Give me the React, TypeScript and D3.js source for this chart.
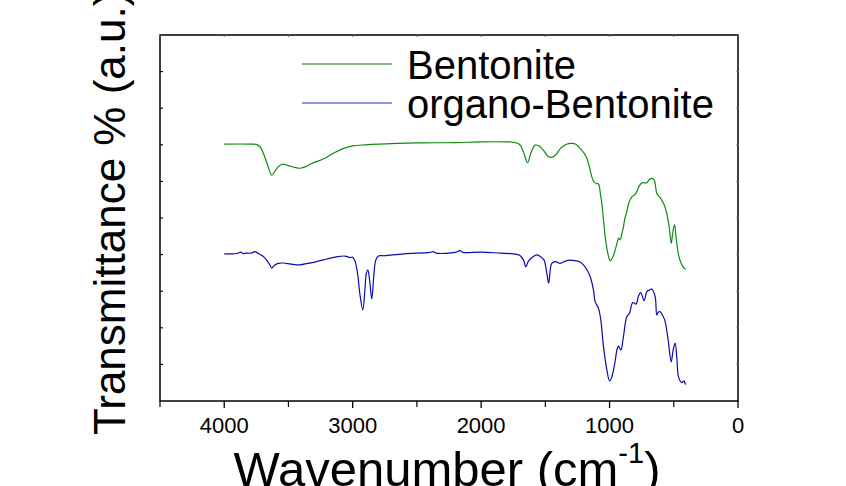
import React from "react";
import * as d3 from "d3";

// Bentonite spectrum: [wavenumber cm-1, transmittance a.u.]
const bentoniteWn = [4000,3800,3750,3720,3690,3660,3630,3600,3570,3540,3500,3450,3410,3360,3320,3280,3230,3150,3080,3000,2900,2790,2500,2200,2000,1800,1750,1700,1670,1639,1610,1580,1550,1510,1480,1450,1420,1380,1340,1293,1260,1229,1200,1177,1155,1139,1120,1100,1086,1070,1060,1047,1034,1015,995,975,956,940,930,917,905,892,880,866,850,826,805,788,770,749,730,710,690,671,653,640,632,610,594,575,555,535,520,507,494,480,463,450,437,420,406];
const bentoniteT = [70.2,70.2,70.1,69.4,67.2,64.2,61.7,63.1,64.3,64.7,64.3,63.8,63.6,64.1,64.9,65.4,66.1,67.7,68.9,69.7,70.0,70.2,70.5,70.6,70.8,70.8,70.7,70.1,68.0,65.1,68.0,69.9,69.7,68.3,66.9,66.6,67.2,69.1,70.1,70.4,70.1,69.0,67.8,66.3,63.7,61.3,59.8,59.4,59.3,56.3,54.0,49.5,44.9,40.7,38.3,39.3,41.3,43.4,44.5,44.0,45.6,47.6,50.0,51.7,54.1,55.8,56.3,57.2,58.7,59.6,59.6,59.6,60.5,60.8,60.4,58.2,56.7,55.7,54.9,53.6,51.3,47.3,43.1,46.2,48.1,44.0,39.9,38.3,37.2,36.3,36.0];

// organo-Bentonite spectrum
const organoWn = [4000,3950,3900,3870,3855,3830,3790,3760,3740,3700,3670,3645,3630,3610,3580,3540,3480,3410,3350,3280,3200,3124,3060,3020,3000,2980,2960,2945,2921,2905,2893,2882,2870,2851,2835,2820,2800,2750,2600,2400,2374,2350,2200,2164,2140,2000,1850,1750,1700,1670,1652,1630,1600,1566,1540,1510,1490,1474,1460,1450,1420,1385,1340,1307,1260,1230,1203,1175,1151,1125,1112,1086,1068,1047,1021,1000,985,969,955,943,930,912,892,866,845,819,793,775,757,731,710,690,671,645,632,620,606,585,570,544,520,505,489,475,463,437,420,410,406];
const organoT = [40.2,40.2,40.3,40.7,40.3,40.4,40.4,40.8,40.4,39.6,38.5,37.2,36.3,37.0,37.6,37.7,37.4,37.2,37.6,38.1,38.8,39.4,39.6,39.2,39.3,38.0,34.4,29.5,24.9,30.3,35.0,35.8,33.6,27.9,34.4,38.5,39.6,39.7,40.2,40.6,40.8,40.4,40.6,41.1,40.6,40.7,40.4,40.2,39.8,38.5,36.7,38.3,39.3,39.9,39.5,38.5,35.2,32.2,36.3,37.6,38.1,37.6,38.3,38.5,38.3,38.0,37.2,35.8,34.0,30.3,27.1,25.3,22.1,14.8,8.5,5.5,6.3,8.5,11.2,13.9,15.0,13.9,17.6,23.0,24.0,26.9,26.5,28.7,29.6,27.4,29.9,30.3,30.6,28.5,23.5,24.3,24.4,23.2,22.1,16.7,10.7,13.9,15.8,11.2,6.6,5.0,5.5,4.6,4.8];

const seriesNames = ["Bentonite", "organo-Bentonite"];
const seriesColors = ["#128a12", "#0a0ab0"];
const xMajorTicks = [4000, 3000, 2000, 1000, 0];
const xMinorTicks = [4500, 3500, 2500, 1500, 500];
const yTicks = [0, 10, 20, 30, 40, 50, 60, 70, 80, 90, 100];

const W = 846, H = 486;
const L = 160, R = 738, T = 35, B = 401;

export default function App() {
  const x = d3.scaleLinear().domain([4500, 0]).range([L, R]);
  const y = d3.scaleLinear().domain([0, 100]).range([B, T]);
  const line = d3
    .line<[number, number]>()
    .x((d) => x(d[0]))
    .y((d) => y(d[1]))
    .curve(d3.curveCatmullRom.alpha(0.5));
  const s1 = bentoniteWn.map((w, i) => [w, bentoniteT[i]] as [number, number]);
  const s2 = organoWn.map((w, i) => [w, organoT[i]] as [number, number]);
  const font = "'Liberation Sans', Arial, sans-serif";
  const allX = [...xMajorTicks, ...xMinorTicks];
  return (
    <svg width={W} height={H} style={{ position: "fixed", left: 0, top: 0, background: "#fff" }} fontFamily={font}>
      <rect x={0} y={0} width={W} height={H} fill="#fff" />
      <path d={line(s1) || ""} fill="none" stroke={seriesColors[0]} strokeWidth={1.2} />
      <path d={line(s2) || ""} fill="none" stroke={seriesColors[1]} strokeWidth={1.2} />
      {/* frame */}
      <rect x={L} y={T} width={R - L} height={B - T} fill="none" stroke="#000" strokeWidth={1.5} />
      {/* bottom ticks */}
      {xMajorTicks.map((t) => (
        <line key={"xm" + t} x1={x(t)} x2={x(t)} y1={B} y2={B + 7} stroke="#000" strokeWidth={1.3} />
      ))}
      {xMinorTicks.map((t) => (
        <line key={"xn" + t} x1={x(t)} x2={x(t)} y1={B} y2={B + 6} stroke="#000" strokeWidth={1.2} />
      ))}
      {/* top ticks */}
      {allX.map((t) => (
        <line key={"xt" + t} x1={x(t)} x2={x(t)} y1={T} y2={T + 2} stroke="#666" strokeWidth={1} />
      ))}
      {/* left & right ticks */}
      {yTicks.slice(1, -1).map((t) => (
        <g key={"y" + t}>
          <line x1={L} x2={L + 3} y1={y(t)} y2={y(t)} stroke="#000" strokeWidth={1.1} />
          <line x1={R} x2={R - 2} y1={y(t)} y2={y(t)} stroke="#888" strokeWidth={1} />
        </g>
      ))}
      {xMajorTicks.map((t) => (
        <text key={"xl" + t} x={x(t)} y={433} fontSize={22} textAnchor="middle" fill="#000">
          {t}
        </text>
      ))}
      <text x={447} y={486} fontSize={49} textAnchor="middle" fill="#000">
        Wavenumber (cm
        <tspan fontSize={29} dy={-23}>-1</tspan>
        <tspan dy={23}>)</tspan>
      </text>
      <text transform="translate(125,435) rotate(-90)" fontSize={44} fill="#000">
        Transmittance % (a.u.)
      </text>
      {/* legend */}
      {seriesNames.map((n, i) => (
        <g key={n}>
          <line x1={302} x2={392} y1={64 + i * 39} y2={64 + i * 39} stroke={i === 0 ? "#0a6e0a" : "#2233cc"} strokeWidth={1.2} />
          <text x={407} y={79 + i * 39} fontSize={40} fill="#000">{n}</text>
        </g>
      ))}
    </svg>
  );
}
